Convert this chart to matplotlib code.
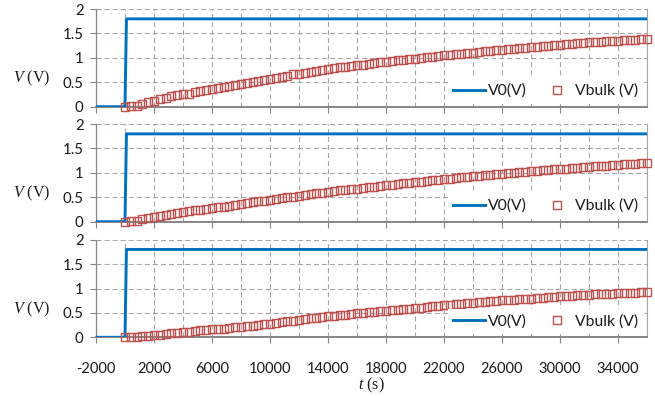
import matplotlib
matplotlib.use('Agg')
import matplotlib.pyplot as plt
from matplotlib.ticker import MultipleLocator, FixedLocator

plt.rcParams['font.family'] = ['Lato', 'DejaVu Sans']
plt.rcParams['lines.scale_dashes'] = False
plt.rcParams['axes.unicode_minus'] = False
plt.rcParams['mathtext.fontset'] = 'custom'
plt.rcParams['mathtext.rm'] = 'Liberation Serif'
plt.rcParams['mathtext.it'] = 'Liberation Serif:italic'

# ---- data ----
t_v0 = [-2000, 0, 100, 36000]
v0 = [0.0, 0.0, 1.8, 1.8]

t_bulk = [0, 400, 800, 1200, 1600, 2000, 2400, 2800, 3200, 3600, 4000, 4400, 4800, 5200,
          5600, 6000, 6400, 6800, 7200, 7600, 8000, 8400, 8800, 9200, 9600, 10000, 10400,
          10800, 11200, 11600, 12000, 12400, 12800, 13200, 13600, 14000, 14400, 14800,
          15200, 15600, 16000, 16400, 16800, 17200, 17600, 18000, 18400, 18800, 19200,
          19600, 20000, 20400, 20800, 21200, 21600, 22000, 22400, 22800, 23200, 23600,
          24000, 24400, 24800, 25200, 25600, 26000, 26400, 26800, 27200, 27600, 28000,
          28400, 28800, 29200, 29600, 30000, 30400, 30800, 31200, 31600, 32000, 32400,
          32800, 33200, 33600, 34000, 34400, 34800, 35200, 35600, 36000]

vbulk_1 = [0.00, 0.01, 0.02, 0.05, 0.09, 0.12, 0.16, 0.18, 0.21, 0.23, 0.25, 0.27, 0.30, 0.32,
           0.34, 0.36, 0.38, 0.40, 0.42, 0.44, 0.47, 0.49, 0.51, 0.53, 0.55, 0.57, 0.59,
           0.61, 0.63, 0.66, 0.68, 0.70, 0.72, 0.74, 0.76, 0.78, 0.79, 0.81,
           0.82, 0.84, 0.85, 0.86, 0.88, 0.89, 0.91, 0.92, 0.93, 0.95, 0.96,
           0.97, 0.98, 1.00, 1.01, 1.02, 1.03, 1.05, 1.06, 1.07, 1.09, 1.10,
           1.11, 1.13, 1.14, 1.15, 1.16, 1.17, 1.18, 1.19, 1.20, 1.21, 1.22,
           1.23, 1.24, 1.25, 1.26, 1.27, 1.28, 1.29, 1.30, 1.31, 1.32, 1.32,
           1.33, 1.34, 1.35, 1.35, 1.36, 1.37, 1.37, 1.38, 1.39]

vbulk_2 = [0.00, 0.01, 0.02, 0.05, 0.08, 0.10, 0.12, 0.14, 0.16, 0.17, 0.19, 0.21, 0.23, 0.25,
           0.27, 0.28, 0.30, 0.31, 0.33, 0.35, 0.36, 0.38, 0.40, 0.42, 0.43, 0.45, 0.46,
           0.48, 0.50, 0.51, 0.53, 0.55, 0.56, 0.58, 0.59, 0.61, 0.62, 0.64,
           0.65, 0.67, 0.68, 0.70, 0.71, 0.72, 0.74, 0.75, 0.76, 0.78, 0.79,
           0.80, 0.81, 0.82, 0.84, 0.85, 0.86, 0.87, 0.88, 0.90, 0.91, 0.92,
           0.93, 0.94, 0.95, 0.96, 0.97, 0.98, 0.99, 1.00, 1.01, 1.02, 1.03,
           1.04, 1.05, 1.06, 1.07, 1.08, 1.09, 1.10, 1.11, 1.12, 1.13, 1.14,
           1.14, 1.15, 1.16, 1.17, 1.18, 1.18, 1.19, 1.20, 1.20]

vbulk_3 = [0.00, 0.00, 0.01, 0.02, 0.03, 0.04, 0.05, 0.07, 0.08, 0.09, 0.10, 0.11, 0.13, 0.14,
           0.15, 0.16, 0.17, 0.18, 0.19, 0.21, 0.22, 0.23, 0.24, 0.25, 0.27, 0.28, 0.30,
           0.31, 0.33, 0.34, 0.36, 0.37, 0.39, 0.40, 0.41, 0.43, 0.44, 0.45,
           0.46, 0.48, 0.49, 0.50, 0.51, 0.52, 0.53, 0.54, 0.55, 0.56, 0.57,
           0.59, 0.60, 0.61, 0.62, 0.64, 0.65, 0.66, 0.67, 0.68, 0.69, 0.70,
           0.71, 0.72, 0.73, 0.74, 0.75, 0.76, 0.76, 0.77, 0.78, 0.78, 0.79,
           0.80, 0.81, 0.82, 0.83, 0.84, 0.85, 0.85, 0.86, 0.87, 0.87, 0.88,
           0.88, 0.89, 0.89, 0.90, 0.90, 0.91, 0.91, 0.92, 0.92]

x_ticks = [-2000, 2000, 6000, 10000, 14000, 18000, 22000, 26000, 30000, 34000]
y_ticks = [0, 0.5, 1, 1.5, 2]
y_ticklabels = ['0', '0.5', '1', '1.5', '2']
series = [vbulk_1, vbulk_2, vbulk_3]
legend_labels = ['V0(V)', 'Vbulk (V)']

# ---- figure ----
fig = plt.figure(figsize=(6.55, 3.96), dpi=100)
left, width, height = 96 / 655, 551 / 655, 97.6 / 396
bottoms = [(396 - 106.7) / 396, (396 - 221.7) / 396, (396 - 337.3) / 396]

blue = '#0070C0'
red = '#C0504D'
grid_c = '#a6a6a6'
axis_c = '#868686'
txt_c = '#1a1a1a'
dash = (0, (3.6, 2.2))

for i, (b, vb) in enumerate(zip(bottoms, series)):
    ax = fig.add_axes([left, b, width, height])
    ax.set_xlim(-2000, 36000)
    ax.set_ylim(0, 2)
    ax.xaxis.set_major_locator(FixedLocator(x_ticks))
    ax.xaxis.set_minor_locator(MultipleLocator(2000))
    ax.yaxis.set_major_locator(FixedLocator(y_ticks))
    ax.set_yticklabels(y_ticklabels)
    ax.grid(which='both', axis='x', color=grid_c, lw=0.8, linestyle=dash)
    ax.grid(which='major', axis='y', color=grid_c, lw=0.8, linestyle=dash)
    ax.set_axisbelow(True)
    ax.tick_params(which='minor', length=0)
    ax.tick_params(axis='x', which='major', direction='out', length=4, width=0.8,
                   color=axis_c, labelsize=10.5, labelcolor=txt_c, pad=14)
    ax.tick_params(axis='y', which='major', direction='out', length=4, width=0.8,
                   color=axis_c, labelsize=10.8, labelcolor=txt_c, pad=5)
    if i < 2:
        ax.tick_params(axis='x', labelbottom=False)
    ax.spines['top'].set_visible(False)
    ax.spines['left'].set_color(axis_c)
    ax.spines['left'].set_linewidth(0.9)
    ax.spines['bottom'].set_color(axis_c)
    ax.spines['bottom'].set_linewidth(1.4)
    ax.spines['right'].set_color(grid_c)
    ax.spines['right'].set_linewidth(0.8)

    ax.plot(t_v0, v0, color=blue, lw=2.1, label=legend_labels[0], zorder=3)
    ax.plot(t_bulk, vb, ls='none', marker='s', ms=5.3, mfc='none', mec=red, mew=1.0,
            label=legend_labels[1], zorder=4, clip_on=False)

    leg = ax.legend(loc='lower right', bbox_to_anchor=(1, 0), ncol=2, frameon=True,
                    fancybox=False, framealpha=1, facecolor='white', edgecolor='white',
                    borderaxespad=0.2, borderpad=0.35, handlelength=2.05,
                    handletextpad=0.15, columnspacing=0.9, fontsize=11.3)
    leg.get_frame().set_linewidth(0)
    for t in leg.get_texts():
        t.set_color(txt_c)

    ax.text(-0.0835, 0.29, '$V$ (V)', transform=ax.transAxes, ha='right', va='center',
            fontsize=11.5, family='Liberation Serif', color=txt_c)

fig.text(371.5 / 655, 1 - 385 / 396, '$t$ (s)', ha='center', va='center',
         fontsize=11.5, family='Liberation Serif', color=txt_c)

fig.savefig('out.png', dpi=100)
